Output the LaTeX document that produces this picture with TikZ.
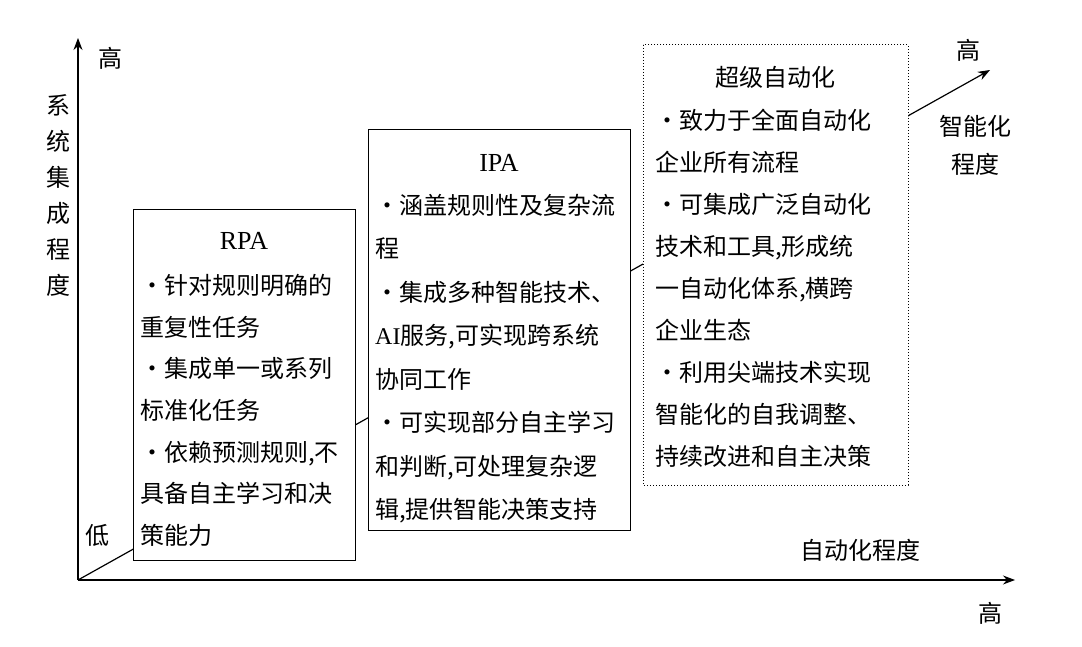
\documentclass[tikz,border=0pt]{standalone}
\usepackage{fontspec}
\setmainfont{Liberation Serif}
\newfontfamily\cjk{Noto Sans CJK SC}
\usetikzlibrary{arrows.meta}
\tikzset{
  ax/.style={line width=1.2pt,-{Stealth[length=12pt,width=9pt]}},
  boxline/.style={draw,line width=1pt},
  lbl/.style={font=\cjk\fontsize{24}{28}\selectfont,inner sep=0pt},
  ttl/.style={font=\cjk\fontsize{24}{28}\selectfont,inner sep=0pt,anchor=base},
  body/.style={inner sep=0pt,anchor=north west,align=left}
}
\begin{document}
\begin{tikzpicture}[x=1pt,y=-1pt]
\useasboundingbox (0,0) rectangle (1082,647);
\coordinate (o) at (78,580);
\coordinate (ytop) at (78,38);
\coordinate (xend) at (1015,580);
\coordinate (dend) at (990,70);
\draw[ax] (o) -- (ytop);
\draw[ax] (o) -- (xend);
\draw[ax] (o) -- (dend);
% boxes
\draw[boxline,fill=white] (133,210) rectangle (355,560);
\draw[boxline,fill=white] (368,130) rectangle (630,530);
\draw[line width=1pt,dotted,fill=white] (643,45) rectangle (908,485);
% labels
\node[lbl] (h1) at (110,58) {高};
\node[lbl,align=center,font=\cjk\fontsize{24}{36}\selectfont] (ylab) at (58,195) {系\\统\\集\\成\\程\\度};
\node[lbl] (low) at (97,535) {低};
\node[lbl] (xlab) at (860,550) {自动化程度};
\node[lbl] (h2) at (990,613) {高};
\node[lbl] (h3) at (968,50) {高};
\node[lbl,align=center,font=\cjk\fontsize{24}{38}\selectfont] (dlab) at (975,145) {智能化\\程度};
% RPA
\node[ttl,font=\fontsize{26}{30}\selectfont] (t1) at (244,250) {RPA};
\node[body,font=\cjk\fontsize{24}{41.7}\selectfont] (b1) at (140,274) {·针对规则明确的\\重复性任务\\·集成单一或系列\\标准化任务\\·依赖预测规则,不\\具备自主学习和决\\策能力};
% IPA
\node[ttl,font=\fontsize{26}{30}\selectfont] (t2) at (499,172) {IPA};
\node[body,font=\cjk\fontsize{24}{43.5}\selectfont] (b2) at (375,194) {·涵盖规则性及复杂流\\程\\·集成多种智能技术、\\\fontspec{Liberation Serif}AI\cjk 服务,可实现跨系统\\协同工作\\·可实现部分自主学习\\和判断,可处理复杂逻\\辑,提供智能决策支持};
% super
\node[ttl] (t3) at (775,87) {超级自动化};
\node[body,font=\cjk\fontsize{24}{42}\selectfont] (b3) at (655,109) {·致力于全面自动化\\企业所有流程\\·可集成广泛自动化\\技术和工具,形成统\\一自动化体系,横跨\\企业生态\\·利用尖端技术实现\\智能化的自我调整、\\持续改进和自主决策};
\end{tikzpicture}
\end{document}
